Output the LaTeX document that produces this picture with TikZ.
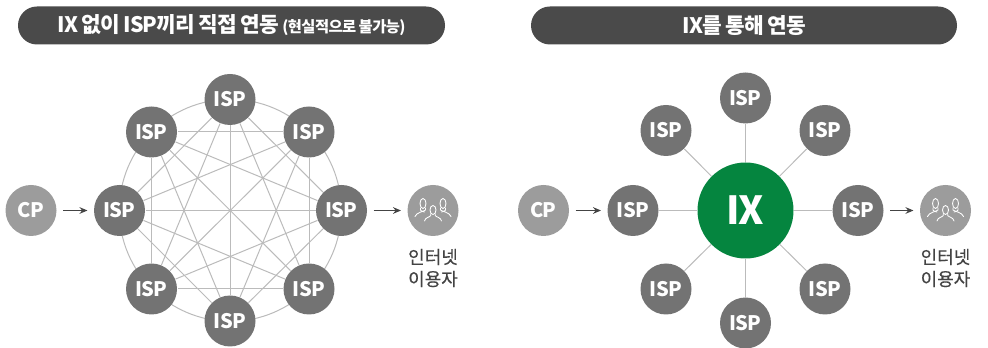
\documentclass[tikz,border=0pt]{standalone}
\usepackage{fontspec}
\setmainfont{Noto Sans CJK KR}
\newfontfamily\tightfont[LetterSpace=-3.5,WordSpace=0.8]{Noto Sans CJK KR}
\newfontfamily\labelfont[FakeBold=0.35]{Noto Sans CJK KR}
\usetikzlibrary{arrows.meta}
\definecolor{pillgray}{HTML}{4A4A4A}
\definecolor{ispgray}{HTML}{737373}
\definecolor{cpgray}{HTML}{9C9C9C}
\definecolor{linegray}{HTML}{BBBBBB}
\definecolor{ixgreen}{HTML}{05853F}
\definecolor{labelgray}{HTML}{444444}
\tikzset{every picture/.style={line width=0.75pt}}
\tikzset{
  titlepill/.style={fill=pillgray,rounded corners=14.2pt,minimum height=28.5pt,inner sep=0pt,text=white,font=\tightfont\bfseries\fontsize{16}{18}\selectfont},
  disc/.style={circle,inner sep=0pt,minimum size=38.25pt,text=white,font=\tightfont\bfseries\fontsize{15}{17}\selectfont},
  isp/.style={disc,fill=ispgray},
  cp/.style={disc,fill=cpgray},
  hub/.style={circle,inner sep=0pt,minimum size=72pt,fill=ixgreen,text=white,font=\tightfont\bfseries\fontsize{29}{31}\selectfont},
  link/.style={draw=linegray},
  ringline/.style={circle,draw=linegray,inner sep=0pt,minimum size=166.5pt},
  flow/.style={draw=labelgray,line width=0.9pt,-{Stealth[length=6pt,width=5pt]},shorten >=4.5pt,shorten <=4.5pt},
  userlabel/.style={align=center,text=labelgray,inner sep=0pt,font=\labelfont\fontsize{13.5}{16.5}\selectfont},
  person/.style={draw=white,line width=0.65pt,line join=round,line cap=round}
}
\newcommand{\usersicon}[1]{%
  \begin{scope}[shift={(#1)}]
    % side figures
    \foreach \s in {-1,1} {
      \draw[person] (\s*10,-7) ellipse (3 and 5);
      \draw[person] (\s*7.5,-2.5) -- (\s*7.5,-0.5) .. controls (\s*8,0.5) and (\s*17,2) .. (\s*18,6);
      \draw[person] (\s*12.5,-2.5) -- (\s*12.5,-0.5) .. controls (\s*12,0.5) and (\s*11,1) .. (\s*8.5,1.5);
    }
    % middle figure
    \draw[person] (0,-0.5) ellipse (3 and 4.5);
    \draw[person] (-2.2,3.5) -- (-2.2,5) .. controls (-3,6.5) and (-8,7) .. (-8.5,10.5);
    \draw[person] (2.2,3.5) -- (2.2,5) .. controls (3,6.5) and (8,7) .. (8.5,10.5);
  \end{scope}
}
\begin{document}
\begin{tikzpicture}[x=0.75pt,y=0.75pt,yscale=-1,xscale=1]
\useasboundingbox (0,0) rectangle (988,348);

% Title bars
\node (titleleft) [titlepill,minimum width=320.25pt] at (231.5,25.5) {IX 없이 ISP끼리 직접 연동 {\fontsize{11.5}{12}\selectfont (현실적으로 불가능)}};
\node (titleright) [titlepill,minimum width=319.5pt] at (744,25.5) {IX를 통해 연동};

% Left group
\node (ring) [ringline] at (230.3,210.3) {};
\foreach \n/\px/\py in {1/230/99.5,2/309/132,3/341.5/210.5,4/309/289,5/230/321,6/151.5/289,7/119.5/210.5,8/151.5/132}
  \node (a\n) [isp] at (\px,\py) {ISP};
\node (cpleft) [cp] at (31,210.5) {CP};
\node (userleft) [cp] at (433,210.5) {};
\node (labelleft) [userlabel] at (433,268) {인터넷\\이용자};

% mesh
\foreach \n in {1,...,8}
  \foreach \m in {1,...,8} {
    \pgfmathtruncatemacro{\d}{\m-\n}
    \ifnum\d>1 \ifnum\d<7
      \draw[link] (a\n) -- (a\m);
    \fi\fi
  }
\draw[flow] (cpleft) -- (a7);
\draw[flow] (a3) -- (userleft);
\usersicon{userleft}

% Right group
\node (ix) [hub] at (745.5,210.5) {IX};
\foreach \n/\px/\py in {1/745.5/98,2/825/130.5,3/858/210.5,4/825/289,5/745.5/323,6/666/289,7/633/210.5,8/666/130.5} {
  \node (b\n) [isp] at (\px,\py) {ISP};
  \draw[link] (ix) -- (b\n);
}
\node (cpright) [cp] at (543.5,210.5) {CP};
\node (userright) [cp] at (945.5,210.5) {};
\node (labelright) [userlabel] at (945.5,268) {인터넷\\이용자};
\draw[flow] (cpright) -- (b7);
\draw[flow] (b3) -- (userright);
\usersicon{userright}

\end{tikzpicture}
\end{document}
